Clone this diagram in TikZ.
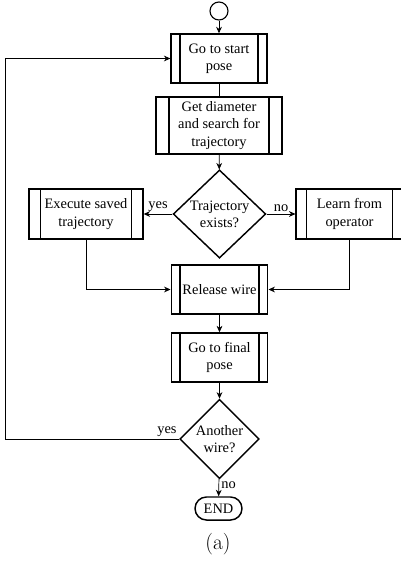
\documentclass[tikz,border=0pt]{standalone}
\usepackage{fontspec}
\usetikzlibrary{shapes.geometric, arrows.meta}
\newfontfamily\chartfont{Liberation Serif}

\tikzset{
    subproc/.style={draw, rectangle, line width=1pt, align=center, font=\chartfont,
        path picture={\draw[line width=1pt]
            ([xshift=#1]path picture bounding box.north west) -- ([xshift=#1]path picture bounding box.south west)
            ([xshift=-#1]path picture bounding box.north east) -- ([xshift=-#1]path picture bounding box.south east);}},
    subproc/.default=6.2pt,
    decision/.style={draw, diamond, line width=1pt, align=center, inner sep=0.8pt, font=\chartfont},
    terminal/.style={draw, rectangle, rounded corners=8pt, line width=1pt, font=\chartfont,
        minimum width=32.6pt, minimum height=16pt},
    startpt/.style={draw, circle, line width=0.8pt, minimum size=12.5pt, inner sep=0pt},
    conn/.style={line width=0.5pt},
    arr/.style={line width=0.5pt, -{Stealth[length=4.5pt, width=4pt]}},
    lbl/.style={font=\chartfont, inner sep=1.5pt}
}

\begin{document}
\begin{tikzpicture}[x=0.694pt, y=-0.694pt]
                \useasboundingbox (0,0) rectangle (401,562);

                % Inicio y primeras cajas
                \node[startpt] (start) at (219,11) {};
                \node[subproc, minimum width=66.5pt, minimum height=34pt] (gostart) at (219,58.5) {Go to start\\pose};
                \node[subproc=9pt, minimum width=87.5pt, minimum height=39.6pt] (getdia) at (219,125.5) {Get diameter\\and search for\\trajectory};

                % Decision de trayectoria
                \node[decision, aspect=1.05] (trajex) at (219.5,214) {Trajectory\\exists?};
                \node[subproc=8pt, minimum width=79pt, minimum height=34.7pt] (execsaved) at (86,214) {Execute saved\\trajectory};
                \node[subproc=7pt, minimum width=74pt, minimum height=34.7pt] (learnop) at (349.5,214) {Learn from\\operator};

                % Soltar cable y pose final
                \node[subproc, minimum width=67pt, minimum height=34pt] (release) at (219.5,289.5) {Release wire};
                \node[subproc, minimum width=67pt, minimum height=34pt] (gofinal) at (219.5,357.5) {Go to final\\pose};

                % Otra vuelta?
                \node[decision] (another) at (219.5,439) {Another\\wire?};
                \node[terminal] (theend) at (218.5,508.5) {END};
                \coordinate (loopcorner) at (5,439);

                \node (caption) at (218,544) {\fontsize{15}{18}\selectfont (a)};

                % Conectores
                \draw[arr] (start) -- (gostart);
                \draw[conn] (gostart) -- (getdia);
                \draw[arr] (getdia) -- (trajex);
                \draw[arr] (trajex) -- node[lbl, above] {yes} (execsaved);
                \draw[arr] (trajex) -- node[lbl, above] {no} (learnop);
                \draw[arr] (execsaved.south) |- (release.west);
                \draw[arr] (learnop.south) |- (release.east);
                \draw[arr] (release) -- (gofinal);
                \draw[arr] (gofinal) -- (another);
                \draw[arr] (another) -- node[lbl, right, pos=0.35] {no} (theend);
                \draw[arr] (another.west) -- node[lbl, above left, pos=0] {yes} (loopcorner) |- (gostart.west);
            \end{tikzpicture}
\end{document}
